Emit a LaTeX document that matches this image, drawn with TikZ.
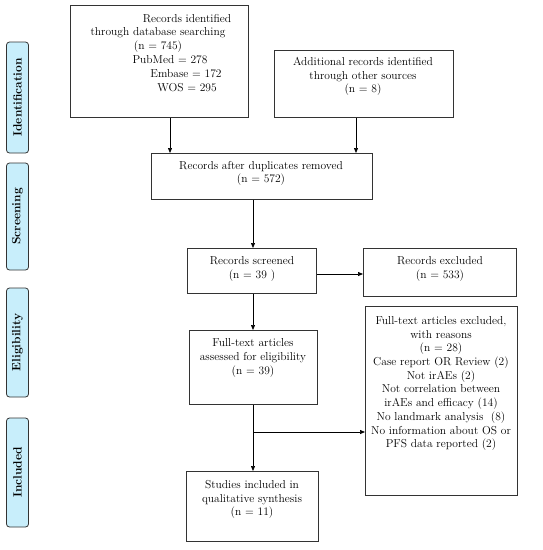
\documentclass[tikz,border=0pt]{standalone}
\usetikzlibrary{arrows.meta}
\definecolor{sidefill}{HTML}{C8EEFB}
\definecolor{linegray}{HTML}{333333}
\begin{document}
\begin{tikzpicture}[x=1pt,y=-1pt,
  box/.style={draw=linegray,line width=0.8pt,inner sep=0pt,anchor=north west},
  txt/.style={inner sep=0pt,align=center,font=\fontsize{11.5}{13.7}\selectfont},
  side/.style={draw=linegray,line width=0.8pt,fill=sidefill,rounded corners=3pt,rotate=90,
    minimum height=22pt,inner sep=0pt,font=\fontsize{12}{14}\selectfont\bfseries},
  arr/.style={draw=black,line width=0.7pt,-{Triangle[length=5pt,width=4pt]}},
  ln/.style={draw=black,line width=0.7pt}]
\useasboundingbox (0,0) rectangle (543,550);
% side labels
\node[side,minimum width=111pt] (s1) at (17.5,97.5) {Identification};
\node[side,minimum width=107pt] (s2) at (17.5,216.5) {Screening};
\node[side,minimum width=109pt] (s3) at (17.5,342.5) {Eligibility};
\node[side,minimum width=109pt] (s4) at (17.5,472.5) {Included};
% boxes
\node[box,minimum width=178pt,minimum height=112pt] (b1) at (70,5) {};
\node[box,minimum width=179pt,minimum height=67pt] (b2) at (274,50) {};
\node[box,minimum width=221pt,minimum height=46pt] (b3) at (151,153) {};
\node[box,minimum width=129pt,minimum height=45pt] (b4) at (187,248) {};
\node[box,minimum width=153pt,minimum height=48pt] (b5) at (363,248) {};
\node[box,minimum width=128pt,minimum height=74pt] (b6) at (189,330) {};
\node[box,minimum width=152pt,minimum height=189pt] (b7) at (365,306) {};
\node[box,minimum width=132pt,minimum height=70pt] (b8) at (186,471) {};
% box 1 text
\node[txt] (t1a) at (187,19) {Records identified};
\node[txt] (t1b) at (158,32.7) {through database searching};
\node[txt] (t1c) at (158,46.4) {(n = 745)};
\node[txt] (t1d) at (170,60.1) {PubMed = 278};
\node[txt] (t1e) at (186,73.8) {Embase = 172};
\node[txt] (t1f) at (187,87.5) {WOS = 295};
% other texts
\node[txt] (t2) at (363,76.5) {Additional records identified\\through other sources\\(n = 8)};
\node[txt] (t3) at (261,173.5) {Records after duplicates removed\\(n = 572)};
\node[txt] (t4) at (252,269) {Records screened\\(n = 39 )};
\node[txt] (t5) at (440,269) {Records excluded\\(n = 533)};
\node[txt] (t6) at (253,358) {Full-text articles\\assessed for eligibility\\(n = 39)};
\node[txt] (t7) at (441,383.5) {Full-text articles excluded,\\with reasons\\(n = 28)\\Case report OR Review (2)\\Not irAEs (2)\\Not correlation between\\irAEs and efficacy (14)\\No landmark analysis\ \ (8)\\No information about OS or\\PFS data reported (2)};
\node[txt] (t8) at (252,499.5) {Studies included in\\qualitative synthesis\\(n = 11)};
% connectors
\coordinate (x1) at (170,0);
\coordinate (x2) at (356,0);
\coordinate (x3) at (253,0);
\coordinate (y4) at (0,274);
\coordinate (br) at (253,432);
\draw[arr] (x1 |- b1.south) -- (x1 |- b3.north);
\draw[arr] (x2 |- b2.south) -- (x2 |- b3.north);
\draw[arr] (x3 |- b3.south) -- (x3 |- b4.north);
\draw[arr] (b4.east |- y4) -- (b5.west |- y4);
\draw[arr] (x3 |- b4.south) -- (x3 |- b6.north);
\draw[arr] (x3 |- b6.south) -- (x3 |- b8.north);
\draw[arr] (br) -- (br -| b7.west);
\end{tikzpicture}
\end{document}
